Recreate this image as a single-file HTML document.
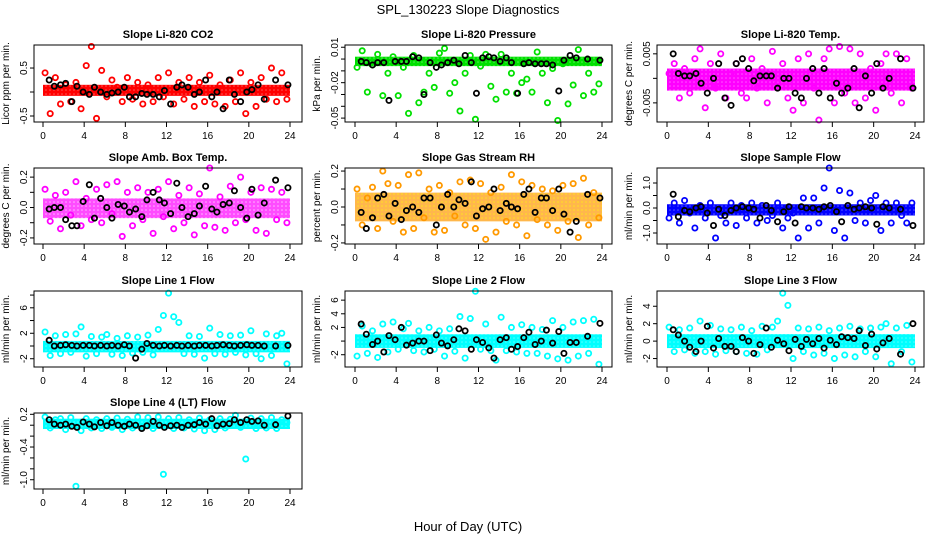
<!DOCTYPE html>
<html><head><meta charset="utf-8"><style>
body{margin:0;background:#fff;width:936px;height:540px;overflow:hidden}
svg{display:block;font-family:"Liberation Sans",sans-serif}
</style></head><body>
<svg id="chart" width="936" height="540" viewBox="0 0 936 540" xmlns="http://www.w3.org/2000/svg">
<defs></defs>
<text x="468" y="14" text-anchor="middle" font-size="13">SPL_130223  Slope Diagnostics</text>
<text x="468" y="531" text-anchor="middle" font-size="13">Hour of Day (UTC)</text>
</svg>
<script>
const hoursColored=[0.2,0.7,1.2,1.7,2.2,2.7,3.2,3.7,4.2,4.7,5.2,5.7,6.2,6.7,7.2,7.7,8.2,8.7,9.2,9.7,10.2,10.7,11.2,11.7,12.2,12.7,13.2,13.7,14.2,14.7,15.2,15.7,16.2,16.7,17.2,17.7,18.2,18.7,19.2,19.7,20.2,20.7,21.2,21.7,22.2,22.7,23.2,23.7];
const hoursBlack=[0.6,1.1,1.7,2.2,2.8,3.3,3.9,4.5,5.0,5.6,6.2,6.7,7.3,7.9,8.4,9.0,9.6,10.1,10.7,11.3,11.8,12.4,13.0,13.5,14.1,14.7,15.2,15.8,16.4,16.9,17.5,18.1,18.6,19.2,19.8,20.3,20.9,21.5,22.6,23.8];
const titles=["Slope Li-820 CO2","Slope Li-820 Pressure","Slope Li-820 Temp.","Slope Amb. Box Temp.","Slope Gas Stream RH","Slope Sample Flow","Slope Line 1 Flow","Slope Line 2 Flow","Slope Line 3 Flow","Slope Line 4 (LT) Flow"];
const yTitles=["Licor ppm per min.","kPa per min.","degrees C per min.","degrees C per min.","percent per min.","ml/min per min.","ml/min per min.","ml/min per min.","ml/min per min.","ml/min per min."];
const yRanges=[[-0.625,0.98],[-0.0533,0.0119],[-0.0089,0.0068],[-0.24,0.26],[-0.206,0.217],[-1.44,1.6],[-3.3,8.64],[-3.8,7.34],[-2.97,5.75],[-1.17,0.224]];
const yTicks=[[-0.5,0,0.5],[0.01,0,-0.01,-0.02,-0.03,-0.04,-0.05],[-0.005,0,0.005],[-0.2,-0.1,0,0.1,0.2],[-0.2,-0.1,0,0.1,0.2],[-1,-0.5,0,0.5,1],[-2,0,2,4,6,8],[-2,0,2,4,6],[-2,0,2,4],[-1,-0.8,-0.6,-0.4,-0.2,0,0.2]];
const yTickLabels=[["-0.5","","0.5"],["0.01","","","-0.02","","","-0.05"],["-0.005","","0.005"],["-0.2","","0.0","","0.2"],["-0.2","","0.0","","0.2"],["-1.0","","0.0","","1.0"],["-2","","2","","6",""],["-2","","2","4","6"],["-2","0","2","4"],["-1.0","","","-0.4","","","0.2"]];
const xTicks=[0,4,8,12,16,20,24];
const colors=["#ff0000","#00e000","#ff00ff","#ff00ff","#ff9900","#0000ff","#00ffff","#00ffff","#00ffff","#00ffff"];
const bands=[[-0.08,0.15],[-0.006,0.002],[-0.0025,0.002],[-0.07,0.06],[-0.08,0.08],[-0.3,0.15],[-1,0.8],[-1,1],[-0.8,0.8],[-0.07,0.12]];
const colored=[
[0.4,-0.45,0.3,-0.25,0.15,-0.2,0.2,-0.35,0.55,0.95,-0.55,0.45,-0.1,0.25,0.1,-0.2,0.3,-0.15,0.2,-0.25,0.15,-0.2,0.3,-0.1,0.4,-0.25,0.2,-0.15,0.3,-0.3,0.2,-0.2,0.35,-0.25,0.15,-0.3,0.25,-0.2,0.4,-0.45,0.2,-0.3,0.3,-0.15,0.5,-0.2,0.4,-0.15],
[-0.007,0.007,-0.028,-0.005,0.004,-0.031,-0.012,0.002,-0.031,-0.007,-0.046,0.003,-0.037,-0.028,-0.012,-0.024,0.005,0.009,-0.029,-0.02,-0.044,-0.012,0.003,-0.051,-0.006,0.004,-0.023,-0.034,0.004,-0.028,-0.012,-0.029,-0.02,-0.017,-0.028,0.006,-0.012,-0.037,-0.008,-0.052,-0.004,-0.038,-0.022,0.008,-0.031,-0.012,-0.028,-0.021],
[0.001,0.003,-0.004,0.002,-0.003,0.004,0.006,-0.006,0.003,-0.002,0.005,-0.004,0.001,0.003,-0.003,-0.004,0.004,-0.002,0.002,-0.005,0.0055,-0.001,0.003,-0.004,-0.0065,0.004,-0.005,0.005,-0.002,-0.0085,0.004,0.006,-0.005,0.0065,-0.003,0.006,-0.005,0.005,-0.004,0.002,-0.0065,0.003,0.005,-0.003,0.005,-0.005,0.004,-0.002],
[0.12,-0.09,0.08,-0.14,0.1,-0.05,0.17,-0.12,0.06,-0.08,0.12,-0.1,0.15,-0.04,0.17,-0.19,0.1,-0.12,0.13,-0.08,0.1,-0.17,0.12,-0.06,0.17,-0.14,0.08,-0.1,0.13,-0.18,0.09,-0.12,0.26,-0.13,0.07,-0.15,0.14,-0.1,0.2,-0.08,0.1,-0.15,0.13,-0.17,0.12,-0.08,0.1,-0.1],
[0.1,-0.1,0.05,0.11,-0.12,0.2,0.13,-0.08,0.12,-0.14,0.18,-0.12,0.19,-0.06,0.1,-0.14,0.12,-0.13,0.08,-0.05,0.14,-0.1,0.15,-0.12,0.13,-0.18,0.08,-0.14,0.11,-0.08,0.18,-0.1,0.14,-0.16,0.12,-0.07,0.1,-0.1,0.09,-0.13,0.12,-0.08,0.13,-0.17,0.16,-0.1,0.08,-0.06],
[-0.4,0.2,-0.6,0.3,-0.2,-0.8,0.1,-0.4,0.2,-1.2,-0.3,-0.6,0.2,-0.7,0.1,-0.4,0.2,-0.6,0.1,-0.5,-0.3,0.2,-0.8,-0.4,-0.2,-1.2,0.4,-0.8,0.4,-0.6,0.8,1.6,-0.9,0.7,-1.2,0.6,-0.5,0.2,-0.6,0.3,0.5,-0.9,0.2,-0.6,0.2,-0.3,-0.6,0.2],
[2.2,-1.5,1.6,-1.2,1.8,-1,1.9,3,-1.6,1.5,-1.2,1.4,1.8,-1.3,1.2,-1.5,1.6,-1.1,1.4,-1,1.7,-1.4,2.6,4.8,8.3,4.6,3.7,-1.2,1.6,-1.3,1.5,-1.9,2.8,-1.2,1.8,-1.3,1.6,-1,1.7,-1.4,2.4,-1.2,-2,1.9,-1.5,1.6,2,-2.8],
[-2.2,2.2,-1.8,1.5,-2.4,2.5,-1.6,2.8,-1.2,1.8,2.6,-1.4,1.5,-1.6,2.0,-1.2,1.5,-2.2,1.8,-1.5,3.6,-2.5,3.3,7.3,-1.2,2.5,-1.4,-2.8,3.5,-1.4,2.0,-1.6,2.4,-1.8,2.0,-1.8,1.7,-2.2,3.0,-2.6,2.0,-2.8,2.8,-2.2,3.0,-1.8,3.2,-3.4],
[1.6,-1.2,1.3,-1.0,1.5,-1.4,2.3,-1.2,1.8,-1.5,1.4,-1.1,1.3,-1.2,1.6,-1.4,1.2,-1.5,1.7,-1,1.6,2.3,5.5,4.1,-2,1.5,-1.2,1.4,-1.6,1.6,-1.4,1.2,-2,1.5,-1.6,1.7,-1.8,1.4,-1.2,1.5,-1.8,1.6,2.0,-2.6,1.5,-1.2,1.8,-2.4],
[0.15,-0.05,0.1,0.12,-0.08,0.14,-1.12,-0.1,0.12,-0.05,0.1,-0.06,0.12,-0.04,0.13,-0.08,0.11,-0.05,0.15,-0.03,0.14,-0.06,0.15,-0.9,0.12,-0.06,0.14,-0.05,0.1,-0.07,0.13,-0.1,0.1,-0.08,0.12,-0.05,0.11,0.18,-0.04,-0.62,0.13,-0.06,0.12,-0.05,0.14,-0.06,0.1,0.05]];
const black=[
[0.25,0.12,0.15,0.18,-0.2,0.12,0.0,-0.05,0.1,0.0,-0.05,-0.02,0.0,0.1,-0.1,-0.1,-0.03,-0.05,-0.05,-0.1,0.03,-0.25,0.1,0.15,0.1,-0.05,0.0,0.25,-0.1,0.0,-0.35,0.25,-0.05,-0.2,0.0,0.05,0.15,-0.15,0.25,0.15],
[-0.002,-0.003,-0.005,-0.003,-0.003,-0.035,-0.002,-0.002,-0.002,0.002,0.001,-0.03,-0.003,-0.007,-0.005,-0.003,-0.001,-0.004,0.003,-0.003,-0.029,0.001,0.002,0.001,-0.002,0.001,-0.003,-0.029,-0.004,-0.003,-0.004,-0.004,-0.004,-0.005,-0.027,-0.001,0.003,0.001,0.0,-0.001],
[0.005,0.001,0.0005,0.0005,0.001,-0.001,-0.003,0.0,0.003,-0.004,-0.0055,0.003,0.004,0.002,-0.0005,0.0005,0.0005,0.0005,-0.002,0.0,0.0,-0.003,-0.004,0.0,0.002,-0.003,0.002,-0.004,-0.001,-0.003,-0.002,0.002,-0.006,0.0005,-0.003,0.003,-0.002,0.0,0.004,-0.002],
[-0.01,0.0,0.0,-0.08,-0.12,-0.12,0.04,0.15,-0.07,0.06,0.0,-0.07,0.02,0.01,-0.03,-0.01,-0.06,0.05,0.1,0.05,0.03,-0.04,0.16,0.0,-0.06,-0.04,0.01,0.14,-0.01,-0.03,0.02,0.03,0.11,0.0,-0.07,0.12,-0.05,0.03,0.18,0.13],
[-0.03,-0.12,-0.06,0.05,0.07,-0.05,0.02,-0.07,-0.02,0.0,-0.03,0.05,0.05,-0.1,0.0,0.07,0.0,0.04,0.02,0.14,-0.05,-0.01,0.0,0.1,-0.02,0.02,0.0,-0.01,0.07,0.1,-0.03,0.05,0.05,-0.02,0.1,-0.04,-0.14,-0.08,0.07,0.05],
[0.55,-0.35,-0.1,-0.15,0.0,0.05,-0.2,-0.7,-0.05,-0.3,-0.1,0.0,0.05,0.0,-0.05,-0.4,0.1,-0.1,-0.55,-0.15,0.05,-0.6,0.05,0.0,0.0,-0.05,0.05,0.1,-0.15,-0.55,0.1,-0.05,0.0,0.05,0.0,-0.65,0.05,0.0,-0.05,-0.7],
[0.9,0,0.1,0.2,0.1,0,0.1,0.1,0,0.1,0,0.1,0,0.2,0,-1.9,-0.5,0.4,0.1,0,0.1,0,0.1,0,0.1,0,0.1,0.1,0,0.1,0.2,0.1,0,0.1,0.2,0.1,0.1,0,0,0.1],
[2.5,1.0,-0.5,0,-1.6,0.8,0.2,2.0,-0.6,-0.3,0,0,-1.4,0.9,-0.3,-0.7,0.2,1.8,1.5,-1.2,0.2,-0.2,-1.0,-2.5,0.2,0.5,-1.2,-0.8,0.5,1.3,-0.5,0,1.6,-0.3,1.4,-1.8,-0.2,-0.2,0.7,2.6],
[1.3,0.7,0,-0.7,-1.2,0,1.7,-0.8,0.3,-0.6,-0.6,-1.2,0.4,0,-1.4,-0.4,1.5,-0.7,0.1,-0.3,-1.1,0.2,-0.6,0.2,-0.3,0.3,-0.8,0.1,-0.4,0.5,0.4,0.3,1.2,-0.5,0.8,-0.9,-0.2,0.3,-1.5,2.0],
[0.1,0.02,0,0.02,-0.02,-0.04,0.06,0.02,-0.03,0.05,-0.01,0.05,0,-0.02,0.02,0,-0.06,-0.01,0.07,0,-0.04,-0.01,0.0,-0.04,0.0,0.01,0.05,0.02,0.12,-0.01,0.02,0.03,0.1,0.05,0.1,0.07,0.08,0,0.01,0.17]];

const NS="http://www.w3.org/2000/svg";
const svg=document.getElementById('chart');
const defs=svg.querySelector('defs');
const cols=[{l:34,r:302,x0:43,x24:290},{l:345,r:612,x0:355,x24:602},{l:657,r:924,x0:667,x24:915}];
const rows=[{t:45,b:122},{t:168,b:244},{t:291,b:367},{t:413,b:489}];
function mk(tag,attrs,parent){const e=document.createElementNS(NS,tag);for(const k in attrs)e.setAttribute(k,attrs[k]);(parent||svg).appendChild(e);return e;}

titles.forEach((title,p)=>{
  const c=cols[p%3], r=rows[Math.floor(p/3)];
  const [ymin,ymax]=yRanges[p];
  const sx=h=>c.x0+h/24*(c.x24-c.x0);
  const sy=v=>r.t+(ymax-v)/(ymax-ymin)*(r.b-r.t);
  const g=mk('g',{});
  
  
  const soft=(p===3||p===4);
  const pat=mk('pattern',{id:'pat'+p,width:4,height:4,patternUnits:'userSpaceOnUse'},defs);
  mk('rect',{width:4,height:4,fill:colors[p],opacity:soft?0.7:1},pat);
  mk('circle',{cx:2,cy:2,r:0.8,fill:p===4?'#ffff00':'#fff',opacity:soft?0.6:0.35},pat);
  const band=mk('rect',{x:sx(0),y:sy(bands[p][1]),width:sx(24)-sx(0),height:sy(bands[p][0])-sy(bands[p][1]),fill:'url(#pat'+p+')'},g);
  
  
  colored[p].forEach((v,i)=>{
    const pt=mk('circle',{cx:sx(hoursColored[i]),cy:sy(v),r:2.6,fill:'none',stroke:colors[p],'stroke-width':1.8},g);
    
    
  });
  black[p].forEach((v,i)=>{
    const pt=mk('circle',{cx:sx(hoursBlack[i]),cy:sy(v),r:2.6,fill:'none',stroke:'#000','stroke-width':1.8},g);
    
    
  });
  const box=mk('rect',{x:c.l,y:r.t,width:c.r-c.l,height:r.b-r.t,fill:'none',stroke:'#000','stroke-width':1},g);
  
  
  const t=mk('text',{x:(c.l+c.r)/2,y:r.t-7,'text-anchor':'middle','font-size':11,'font-weight':'bold'},g);
  t.textContent=title;
  
  
  const yt=mk('text',{transform:`translate(${c.l-25},${(r.t+r.b)/2}) rotate(-90)`,'text-anchor':'middle','font-size':10},g);
  yt.textContent=yTitles[p];
  
  
  xTicks.forEach(h=>{
    mk('line',{x1:sx(h),x2:sx(h),y1:r.b,y2:r.b+5,stroke:'#000'},g);
    const lb=mk('text',{x:sx(h),y:r.b+17,'text-anchor':'middle','font-size':10},g);
    lb.textContent=h;
    
    
  });
  yTicks[p].forEach((v,i)=>{
    mk('line',{x1:c.l-4,x2:c.l,y1:sy(v),y2:sy(v),stroke:'#000'},g);
    const s=yTickLabels[p][i];
    if(s){
      const lb=mk('text',{transform:`translate(${c.l-7},${sy(v)}) rotate(-90)`,'text-anchor':'middle','font-size':10},g);
      lb.textContent=s;
      
      
    }
  });
});
</script>
</body></html>
